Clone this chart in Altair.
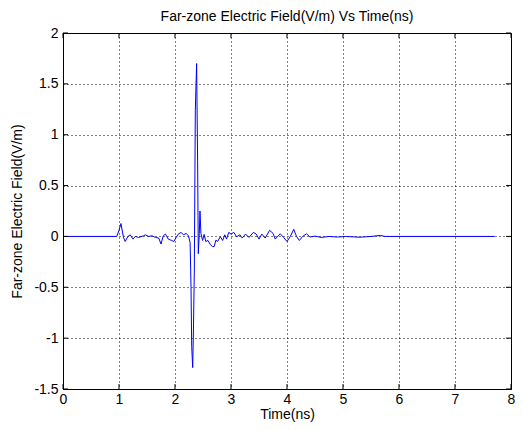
import altair as alt
import pandas as pd

# Values
time_ns = [0.0, 0.96, 1.0, 1.035, 1.08, 1.11, 1.16, 1.2, 1.25, 1.29,
           1.35, 1.44, 1.47, 1.53, 1.59, 1.65, 1.71, 1.75, 1.79, 1.83,
           1.88, 1.94, 1.98, 2.02, 2.06, 2.11, 2.15, 2.2, 2.24, 2.27,
           2.286, 2.298, 2.316, 2.33, 2.345, 2.363, 2.386, 2.404, 2.416, 2.434,
           2.446, 2.463, 2.493, 2.52, 2.55, 2.59, 2.63, 2.67, 2.7, 2.73,
           2.76, 2.81, 2.85, 2.89, 2.92, 2.96, 3.0, 3.05, 3.1, 3.16,
           3.2, 3.26, 3.32, 3.4, 3.45, 3.5, 3.55, 3.61, 3.69, 3.75,
           3.79, 3.88, 3.94, 4.0, 4.06, 4.12, 4.17, 4.22, 4.28, 4.35,
           4.41, 4.5, 4.61, 4.75, 4.9, 5.05, 5.29, 5.5, 5.67, 5.75,
           6.0, 7.71]
field_vm = [0.0, 0.0, 0.06, 0.127, -0.01, -0.05, 0.0, 0.016, -0.026, 0.0,
            -0.01, 0.006, 0.016, 0.0, 0.006, -0.01, -0.016, -0.075, 0.006, 0.023,
            -0.026, -0.04, -0.05, -0.01, 0.023, 0.04, 0.016, 0.03, 0.006, -0.06,
            -0.5, -1.08, -1.29, -0.9, -0.33, 1.24, 1.70, 0.74, -0.17, 0.03,
            0.25, 0.03, -0.04, 0.02, -0.05, -0.04, -0.08, -0.10, -0.10, -0.036,
            -0.05, -0.003, -0.04, 0.016, -0.026, 0.04, 0.023, 0.04, -0.003, 0.016,
            -0.016, 0.023, -0.01, 0.04, 0.023, -0.026, 0.023, -0.016, 0.06, 0.03,
            -0.026, 0.026, -0.01, -0.05, 0.0, 0.07, 0.0, -0.04, 0.0, 0.026,
            -0.006, 0.003, -0.01, 0.0, -0.006, 0.0, -0.008, 0.0, 0.01, 0.0,
            0.0, 0.0]
x_ticks = [0, 1, 2, 3, 4, 5, 6, 7, 8]
y_ticks = [-1.5, -1, -0.5, 0, 0.5, 1, 1.5, 2]

assert len(time_ns) == len(field_vm)

df = pd.DataFrame({"t": time_ns, "e": field_vm})
xt = pd.DataFrame({"t": x_ticks})
yt = pd.DataFrame({"e": y_ticks})

W, H = 448, 356
FONT = "Liberation Sans"
FS = 14

xscale = alt.Scale(domain=[0, 8], nice=False, zero=False)
yscale = alt.Scale(domain=[-1.5, 2], nice=False, zero=False)
x_axis = alt.Axis(values=x_ticks, title="Time(ns)", labelExpr="toString(datum.value)",
                  labelFlush=False, labelPadding=3, titlePadding=1)
y_axis = alt.Axis(values=y_ticks, title="Far-zone Electric Field(V/m)",
                  labelExpr="toString(datum.value)", labelFlush=False,
                  labelPadding=5, titlePadding=9)

X = alt.X("t:Q", scale=xscale, axis=x_axis)
Y = alt.Y("e:Q", scale=yscale, axis=y_axis)

line = alt.Chart(df).mark_line(color="#0000ff", strokeWidth=1, clip=True).encode(x=X, y=Y)

tick_len = 5
top_ticks = alt.Chart(xt).mark_rule(color="black", strokeWidth=1).encode(
    x=X, y=alt.value(0), y2=alt.value(tick_len))
bottom_ticks = alt.Chart(xt).mark_rule(color="black", strokeWidth=1).encode(
    x=X, y=alt.value(H), y2=alt.value(H - tick_len))
left_ticks = alt.Chart(yt).mark_rule(color="black", strokeWidth=1).encode(
    y=Y, x=alt.value(0), x2=alt.value(tick_len))
right_ticks = alt.Chart(yt).mark_rule(color="black", strokeWidth=1).encode(
    y=Y, x=alt.value(W), x2=alt.value(W - tick_len))

chart = alt.layer(line, top_ticks, bottom_ticks, left_ticks, right_ticks).properties(
    width=W, height=H,
    title=alt.TitleParams("Far-zone Electric Field(V/m) Vs Time(ns)", font=FONT,
                          fontSize=FS, fontWeight="normal", color="black", offset=2),
    autosize=alt.AutoSizeParams(type="none"),
    padding={"left": 55, "top": 25, "right": 4, "bottom": 33},
    background="white",
).configure_view(
    stroke="black", strokeWidth=1
).configure_axis(
    labelFont=FONT, labelFontSize=FS, labelColor="black",
    titleFont=FONT, titleFontSize=FS, titleFontWeight="normal", titleColor="black",
    ticks=False, domainColor="black", domainWidth=1,
    grid=True, gridColor="black", gridDash=[1, 3], gridOpacity=1, gridWidth=1,
)

chart.save("out.html", embed_options={"renderer": "svg", "actions": False})
